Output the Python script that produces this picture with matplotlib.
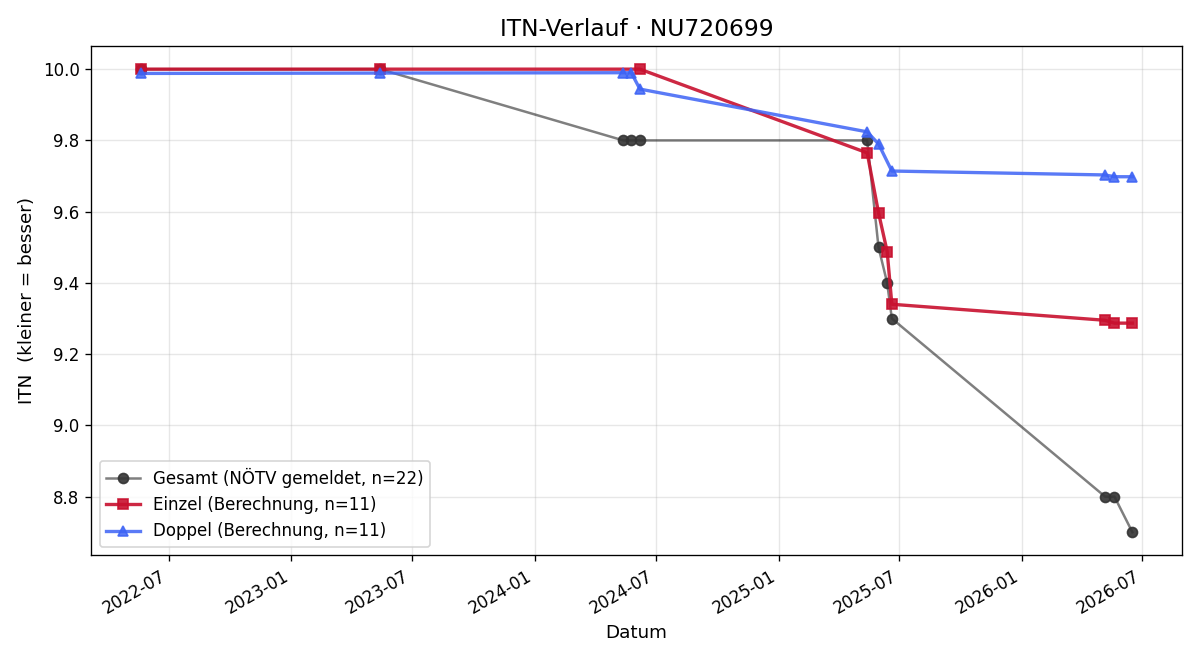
import pandas as pd
import matplotlib
matplotlib.use("Agg")
import matplotlib.pyplot as plt
import matplotlib.dates as mdates

# Gesamt (NÖTV gemeldet)
gesamt_dates = ["2022-05-20", "2023-05-14", "2024-05-13", "2024-05-25", "2024-06-07",
                "2025-05-14", "2025-05-31", "2025-06-13", "2025-06-20",
                "2026-05-06", "2026-05-20", "2026-06-16"]
gesamt_itn = [10.0, 10.0, 9.8, 9.8, 9.8, 9.8, 9.5, 9.4, 9.3, 8.8, 8.8, 8.7]

# Einzel (Berechnung)
einzel_dates = ["2022-05-20", "2023-05-14", "2024-06-07",
                "2025-05-14", "2025-05-31", "2025-06-13", "2025-06-20",
                "2026-05-06", "2026-05-20", "2026-06-16"]
einzel_itn = [10.0, 10.0, 10.0, 9.765, 9.597, 9.488, 9.34, 9.295, 9.287, 9.287]

# Doppel (Berechnung)
doppel_dates = ["2022-05-20", "2023-05-14", "2024-05-13", "2024-05-25", "2024-06-07",
                "2025-05-14", "2025-05-31", "2025-06-20",
                "2026-05-06", "2026-05-20", "2026-06-16"]
doppel_itn = [9.988, 9.989, 9.99, 9.99, 9.944, 9.824, 9.79, 9.714, 9.703, 9.698, 9.698]

fig, ax = plt.subplots(figsize=(10, 5.5), dpi=120)

ax.plot(pd.to_datetime(gesamt_dates), gesamt_itn, marker="o", markersize=6,
        color=(0, 0, 0, 0.5), markerfacecolor=(0.2, 0.2, 0.2, 0.9),
        markeredgecolor=(0.2, 0.2, 0.2, 0.9), linewidth=1.5,
        label="Gesamt (NÖTV gemeldet, n=22)")
ax.plot(pd.to_datetime(einzel_dates), einzel_itn, marker="s", markersize=6,
        color="#c8102e", alpha=0.9, linewidth=2,
        label="Einzel (Berechnung, n=11)")
ax.plot(pd.to_datetime(doppel_dates), doppel_itn, marker="^", markersize=6,
        color="#3d63f5", alpha=0.85, linewidth=2,
        label="Doppel (Berechnung, n=11)")

ax.set_title("ITN-Verlauf · NU720699", fontsize=14)
ax.set_xlabel("Datum", fontsize=11)
ax.set_ylabel("ITN  (kleiner = besser)", fontsize=11)
ax.grid(True, alpha=0.3)
ax.xaxis.set_major_locator(mdates.MonthLocator(bymonth=[1, 7]))
ax.xaxis.set_major_formatter(mdates.DateFormatter("%Y-%m"))
ax.legend(loc="lower left")
fig.autofmt_xdate()

plt.tight_layout()
plt.savefig("out.png")
